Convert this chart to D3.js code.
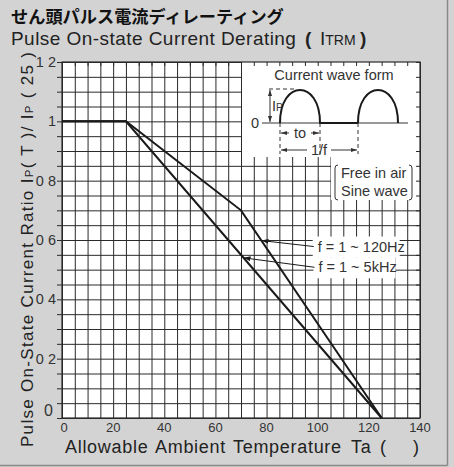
<!DOCTYPE html>
<html>
<head>
<meta charset="utf-8">
<script src="https://cdn.jsdelivr.net/npm/d3@7"></script>
<style>
  html, body { margin: 0; padding: 0; background: #d3d3d3; }
  svg { display: block; font-family: "Liberation Sans", Arial, sans-serif; }
</style>
</head>
<body>
<div id="chart"></div>
<script>
// derating curves (ambient temperature -> current ratio)
const temps120Hz = [0, 25, 70, 125];
const ratio120Hz = [1, 1, 0.7, 0];
const temps5kHz = [0, 25, 125];
const ratio5kHz = [1, 1, 0];

const xTicks = [0, 20, 40, 60, 80, 100, 120, 140];
const yTicks = [0, 0.2, 0.4, 0.6, 0.8, 1.0, 1.2];
const yTickLabels = ["0", "0 2", "0 4", "0 6", "0 8", "1", "1 2"];

// leader annotations: label anchor and the curve point it points at
const curveLabels = ["f = 1 ~ 120Hz", "f = 1 ~ 5kHz"];
const labelTemp = [100, 100.3];
const labelRatio = [0.578, 0.508];
const tipTemp = [78, 71];
const tipRatio = [0.598, 0.54];

function drawChart() {
  const W = 454, H = 467;
  const margin = { top: 62, right: 34, bottom: 49, left: 62 };
  const width = W - margin.left - margin.right,
    height = H - margin.top - margin.bottom;

  const svg = d3.select("#chart").append("svg")
    .attr("width", W).attr("height", H);

  // frame
  svg.append("rect").attr("width", W).attr("height", H).attr("fill", "#d3d3d3");
  svg.append("line").attr("x1", 447.5).attr("x2", 447.5).attr("y1", 0).attr("y2", 465.5)
    .attr("stroke", "#8a8a8a").attr("stroke-width", 1.5);
  svg.append("line").attr("x1", 0).attr("x2", 447.5).attr("y1", 465.5).attr("y2", 465.5)
    .attr("stroke", "#8a8a8a").attr("stroke-width", 1.5);

  // titles
  svg.append("text").attr("x", 11).attr("y", 23)
    .attr("font-family", "'Noto Sans CJK JP', sans-serif")
    .attr("font-weight", "bold").attr("font-size", 17.2).attr("fill", "#111")
    .text("せん頭パルス電流ディレーティング");
  const sub = svg.append("text").attr("y", 45).attr("font-size", 19).attr("fill", "#222");
  sub.append("tspan").attr("x", 11).attr("letter-spacing", 0.45).text("Pulse On-state Current Derating");
  sub.append("tspan").attr("x", 305).attr("font-weight", "bold").text("(");
  sub.append("tspan").attr("x", 320).text("I");
  sub.append("tspan").attr("font-size", 14).text("TRM");
  sub.append("tspan").attr("x", 360).attr("font-weight", "bold").text(")");

  const g = svg.append("g").attr("transform", `translate(${margin.left},${margin.top})`);

  const x = d3.scaleLinear().domain([0, 140]).range([0, width]);
  const y = d3.scaleLinear().domain([0, 1.2]).range([height, 0]);

  g.append("rect").attr("width", width).attr("height", height).attr("fill", "#fff");

  // grid: every 5 degrees, every 0.05
  g.append("g")
    .call(d3.axisBottom(x).tickValues(d3.range(0, 141, 5)).tickSize(height).tickFormat(""))
    .call(a => a.select(".domain").remove())
    .selectAll(".tick line").attr("stroke", "#2a2a2a");
  g.append("g")
    .call(d3.axisLeft(y).tickValues(d3.range(0, 25).map(i => i * 0.05)).tickSize(-width).tickFormat(""))
    .call(a => a.select(".domain").remove())
    .selectAll(".tick line").attr("stroke", "#2a2a2a");

  // white boxes (wave form inset, conditions note)
  const inset = { x0: x(70) + 1, y0: 0, x1: width, y1: 95 };
  g.append("rect").attr("x", inset.x0).attr("y", inset.y0)
    .attr("width", inset.x1 - inset.x0).attr("height", inset.y1 - inset.y0).attr("fill", "#fff");
  const note = { x0: 269, y0: 95, x1: width, y1: 138 };
  g.append("rect").attr("x", note.x0).attr("y", note.y0)
    .attr("width", note.x1 - note.x0).attr("height", note.y1 - note.y0).attr("fill", "#fff");

  // inward edge ticks along top and right
  g.append("g").call(d3.axisTop(x).tickValues(d3.range(0, 141, 5)).tickSize(-4).tickFormat(""))
    .call(a => a.select(".domain").remove())
    .selectAll(".tick line").attr("stroke", "#2a2a2a");
  g.append("g").attr("transform", `translate(${width},0)`)
    .call(d3.axisRight(y).tickValues(d3.range(0, 25).map(i => i * 0.05)).tickSize(-4).tickFormat(""))
    .call(a => a.select(".domain").remove())
    .selectAll(".tick line").attr("stroke", "#2a2a2a");

  // plot border
  g.append("rect").attr("width", width).attr("height", height)
    .attr("fill", "none").attr("stroke", "#2a2a2a").attr("stroke-width", 1.2);

  // y axis outer ticks + labels
  const yAxis = g.append("g")
    .call(d3.axisLeft(y).tickValues(d3.range(0, 25).map(i => i * 0.05)).tickSize(5).tickFormat(""));
  yAxis.select(".domain").remove();
  yAxis.selectAll(".tick line").attr("stroke", "#2a2a2a");
  g.append("g").selectAll("text").data(yTicks).join("text")
    .attr("x", (d, i) => i === 0 ? -9 : -6).attr("y", (d, i) => y(d) + (i === 0 ? -2 : 5))
    .attr("text-anchor", "end").attr("font-size", (d, i) => i === 0 ? 16 : 14.5).attr("fill", "#333")
    .text((d, i) => yTickLabels[i]);

  // x labels
  g.append("g").selectAll("text").data(xTicks).join("text")
    .attr("x", d => x(d) + (d === 0 ? 2 : 0)).attr("y", height + 14)
    .attr("text-anchor", "middle").attr("font-size", 13).attr("fill", "#333")
    .text(d => d);

  // curves
  const line = d3.line().x(d => x(d[0])).y(d => y(d[1]));
  g.append("path").datum(temps120Hz.map((t, i) => [t, ratio120Hz[i]]))
    .attr("d", line).attr("fill", "none").attr("stroke", "#1a1a1a").attr("stroke-width", 2);
  g.append("path").datum(temps5kHz.map((t, i) => [t, ratio5kHz[i]]))
    .attr("d", line).attr("fill", "none").attr("stroke", "#1a1a1a").attr("stroke-width", 2);

  // arrow markers
  const defs = svg.append("defs");
  defs.append("marker").attr("id", "arr").attr("viewBox", "0 0 10 10")
    .attr("refX", 10).attr("refY", 5).attr("markerWidth", 7).attr("markerHeight", 7)
    .attr("markerUnits", "userSpaceOnUse").attr("orient", "auto")
    .append("path").attr("d", "M0,1.5L10,5L0,8.5Z").attr("fill", "#1a1a1a");
  defs.append("marker").attr("id", "arr2").attr("viewBox", "0 0 10 10")
    .attr("refX", 10).attr("refY", 5).attr("markerWidth", 6).attr("markerHeight", 6)
    .attr("markerUnits", "userSpaceOnUse").attr("orient", "auto-start-reverse")
    .append("path").attr("d", "M0,1.5L10,5L0,8.5Z").attr("fill", "#333");

  // curve labels on white backing
  curveLabels.forEach((lab, i) => {
    const tx = x(labelTemp[i]), ty = y(labelRatio[i]);
    g.append("rect").attr("x", tx - 5).attr("y", ty - 10).attr("width", i === 0 ? 87 : 82)
      .attr("height", 21).attr("fill", "#fff");
  });
  curveLabels.forEach((lab, i) => {
    const tx = x(labelTemp[i]), ty = y(labelRatio[i]);
    g.append("text").attr("x", tx).attr("y", ty + 5).attr("font-size", 14.5)
      .attr("fill", "#333").text(lab);
    g.append("line").attr("x1", tx - 4).attr("y1", ty)
      .attr("x2", x(tipTemp[i])).attr("y2", y(tipRatio[i]))
      .attr("stroke", "#1a1a1a").attr("stroke-width", 1).attr("marker-end", "url(#arr)");
  });

  // ---- current wave form inset (local drawing)
  const ins = g.append("g").attr("transform", `translate(${inset.x0},0)`);
  ins.append("text").attr("x", 92).attr("y", 18).attr("text-anchor", "middle")
    .attr("font-size", 14.5).attr("fill", "#333").text("Current wave form");
  const base = 61, peak = 27;
  const p1 = 38, p2 = 78, p3 = 116, p4 = 156;
  ins.append("line").attr("x1", 20).attr("x2", 166).attr("y1", base).attr("y2", base)
    .attr("stroke", "#777").attr("stroke-width", 1.5);
  const half = (a, b) => `M${a},${base}C${a},${peak - 10} ${b},${peak - 10} ${b},${base}`;
  ins.append("path").attr("d", half(p1, p2) + `L${p3},${base}` + half(p3, p4))
    .attr("fill", "none").attr("stroke", "#1a1a1a").attr("stroke-width", 2);
  ins.append("text").attr("x", 9).attr("y", base + 5).attr("font-size", 14.5).attr("fill", "#333").text("0");
  // dashed guides
  const dash = "4,3";
  ins.append("line").attr("x1", 27).attr("x2", 52).attr("y1", peak).attr("y2", peak)
    .attr("stroke", "#333").attr("stroke-dasharray", dash);
  [p1, p2, p3].forEach(px => ins.append("line").attr("x1", px).attr("x2", px)
    .attr("y1", base).attr("y2", base + 31).attr("stroke", "#333").attr("stroke-dasharray", dash));
  // IP dimension
  ins.append("line").attr("x1", 28).attr("x2", 28).attr("y1", peak + 1).attr("y2", base - 1)
    .attr("stroke", "#333").attr("marker-start", "url(#arr2)").attr("marker-end", "url(#arr2)");
  const ip = ins.append("text").attr("x", 30).attr("y", 49).attr("font-size", 14.5).attr("fill", "#333");
  ip.append("tspan").text("I");
  ip.append("tspan").attr("font-size", 10).text("P");
  // to dimension
  const toY = base + 10, fY = base + 27;
  ins.append("line").attr("x1", p1 + 1).attr("x2", p1 + 9).attr("y1", toY).attr("y2", toY)
    .attr("stroke", "#333").attr("marker-start", "url(#arr2)");
  ins.append("line").attr("x1", p2 - 9).attr("x2", p2 - 1).attr("y1", toY).attr("y2", toY)
    .attr("stroke", "#333").attr("marker-end", "url(#arr2)");
  ins.append("text").attr("x", (p1 + p2) / 2).attr("y", toY + 5).attr("text-anchor", "middle")
    .attr("font-size", 14.5).attr("fill", "#333").text("to");
  ins.append("line").attr("x1", p1 + 1).attr("x2", p1 + 27).attr("y1", fY).attr("y2", fY)
    .attr("stroke", "#333").attr("marker-start", "url(#arr2)");
  ins.append("line").attr("x1", p3 - 27).attr("x2", p3 - 1).attr("y1", fY).attr("y2", fY)
    .attr("stroke", "#333").attr("marker-end", "url(#arr2)");
  ins.append("text").attr("x", (p1 + p3) / 2).attr("y", fY + 5).attr("text-anchor", "middle")
    .attr("font-size", 14.5).attr("fill", "#333").text("1/f");

  // ---- conditions note
  const nt = g.append("g").attr("transform", `translate(${note.x0},${note.y0})`);
  nt.append("text").attr("x", 10).attr("y", 21).attr("font-size", 14.5).attr("fill", "#333").text("Free in air");
  nt.append("text").attr("x", 10).attr("y", 39).attr("font-size", 14.5).attr("fill", "#333").text("Sine wave");
  nt.append("path").attr("d", "M7,8Q4,8 4,11L4,40Q4,43 7,43").attr("fill", "none").attr("stroke", "#333");
  nt.append("path").attr("d", "M78,8Q81,8 81,11L81,40Q81,43 78,43").attr("fill", "none").attr("stroke", "#333");

  // axis titles
  const xl = svg.append("text").attr("y", 453).attr("font-size", 18).attr("fill", "#222")
    .attr("letter-spacing", 0.7);
  xl.append("tspan").attr("x", 65).text("Allowable");
  xl.append("tspan").attr("x", 155).text("Ambient");
  xl.append("tspan").attr("x", 233).text("Temperature");
  xl.append("tspan").attr("x", 351).text("Ta");
  xl.append("tspan").attr("x", 380).text("(");
  xl.append("tspan").attr("x", 413).text(")");

  const yl = svg.append("text").attr("transform", "translate(33,447) rotate(-90)")
    .attr("font-size", 17).attr("fill", "#222")
    .attr("textLength", 395).attr("lengthAdjust", "spacing");
  yl.append("tspan").text("Pulse On-State Current Ratio I");
  yl.append("tspan").attr("font-size", 11.5).text("P");
  yl.append("tspan").text("( T )/ I");
  yl.append("tspan").attr("font-size", 11.5).text("P");
  yl.append("tspan").text(" ( 25   )");
}

drawChart();
</script>
</body>
</html>
